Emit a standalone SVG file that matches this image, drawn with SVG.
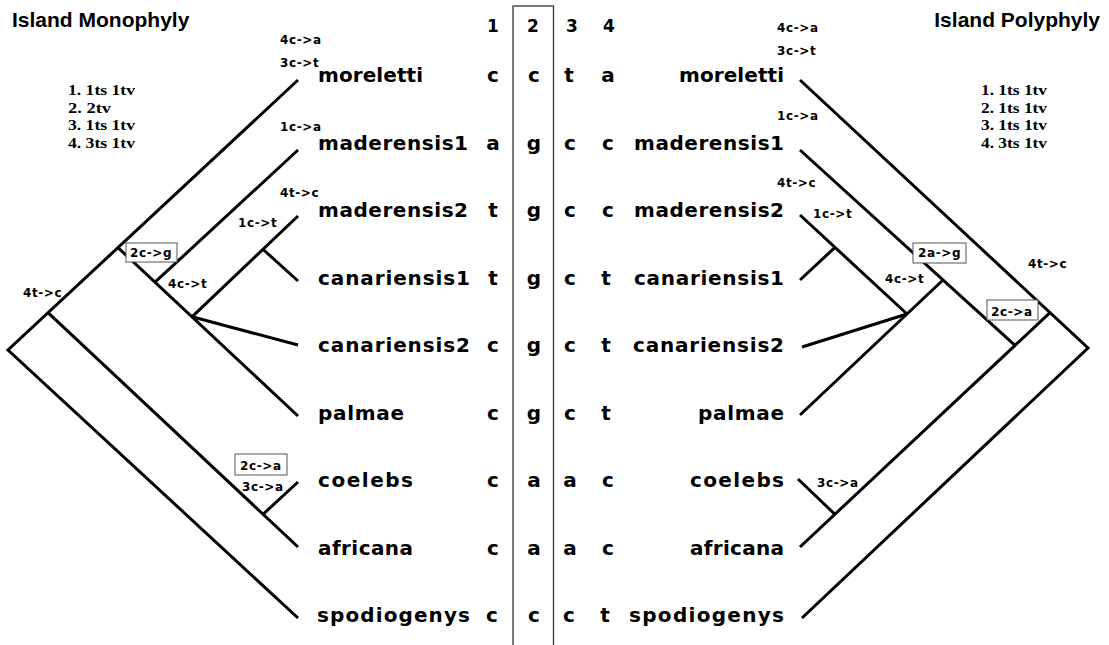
<svg xmlns="http://www.w3.org/2000/svg" width="1109" height="645" viewBox="0 0 1109 645">
<style>
.title{font-family:"Liberation Sans",Arial,sans-serif;font-weight:bold;font-size:21px;fill:#000}
.sp{font-family:"DejaVu Sans",sans-serif;font-weight:bold;font-size:20px;fill:#000}
.col{font-family:"DejaVu Sans",sans-serif;font-weight:bold;font-size:20px;fill:#000;text-anchor:middle}
.hdr{font-family:"DejaVu Sans",sans-serif;font-weight:bold;font-size:17px;fill:#000;text-anchor:middle}
.lab{font-family:"DejaVu Sans",sans-serif;font-weight:bold;font-size:12px;letter-spacing:0.6px;fill:#000}
.leg{font-family:"Liberation Serif","Times New Roman",serif;font-weight:bold;font-size:15px;fill:#000}
.br{stroke:#000;stroke-width:3;fill:none;stroke-linecap:butt}
.box{fill:#fff;stroke:#555;stroke-width:1}
.colbox{fill:none;stroke:#333;stroke-width:1.3}
.r{text-anchor:end}
</style>

<text class="title" x="12" y="27">Island Monophyly</text>
<text class="title r" x="1100" y="27">Island Polyphyly</text>

<g id="legend-left">
<text class="leg" x="68" y="95" textLength="67" lengthAdjust="spacingAndGlyphs">1. 1ts 1tv</text>
<text class="leg" x="68" y="113" textLength="43" lengthAdjust="spacingAndGlyphs">2. 2tv</text>
<text class="leg" x="68" y="130" textLength="67" lengthAdjust="spacingAndGlyphs">3. 1ts 1tv</text>
<text class="leg" x="68" y="148" textLength="67" lengthAdjust="spacingAndGlyphs">4. 3ts 1tv</text>
</g>
<g id="legend-right">
<text class="leg" x="981" y="95" textLength="66" lengthAdjust="spacingAndGlyphs">1. 1ts 1tv</text>
<text class="leg" x="981" y="113" textLength="66" lengthAdjust="spacingAndGlyphs">2. 1ts 1tv</text>
<text class="leg" x="981" y="130" textLength="66" lengthAdjust="spacingAndGlyphs">3. 1ts 1tv</text>
<text class="leg" x="981" y="148" textLength="66" lengthAdjust="spacingAndGlyphs">4. 3ts 1tv</text>
</g>

<g id="columns">
<rect class="colbox" x="513" y="6" width="40.5" height="660"/>
<text class="hdr" x="493" y="32">1</text>
<text class="hdr" x="533" y="32">2</text>
<text class="hdr" x="572" y="32">3</text>
<text class="hdr" x="609" y="32">4</text>
</g>

<g id="connectors">
<!-- left tree -->
<path class="br" d="M298,80 L8,350 L298,618"/>
<path class="br" d="M48,312.7 L298,547"/>
<path class="br" d="M263,514.3 L298,482"/>
<path class="br" d="M118,247.6 L298,416"/>
<path class="br" d="M155,282.2 L298,150"/>
<path class="br" d="M192,316.8 L298,216"/>
<path class="br" d="M192,316.8 L298,345"/>
<path class="br" d="M263,249.3 L298,281"/>
<!-- right tree -->
<path class="br" d="M800,80 L1088,348 L802,618"/>
<path class="br" d="M1050,312.6 L800,547"/>
<path class="br" d="M800,150 L1015,345.4"/>
<path class="br" d="M943,280 L800,415"/>
<path class="br" d="M800,215 L907,314"/>
<path class="br" d="M802,347 L907,314"/>
<path class="br" d="M835,247.4 L800,280"/>
<path class="br" d="M835,514.4 L798,479"/>
</g>

<g id="labels-left">
<text class="lab" x="280" y="44">4c-&gt;a</text>
<text class="lab" x="280" y="67">3c-&gt;t</text>
<text class="lab" x="280" y="131">1c-&gt;a</text>
<text class="lab" x="280" y="197">4t-&gt;c</text>
<text class="lab" x="238" y="227">1c-&gt;t</text>
<rect class="box" x="126" y="243" width="51" height="19"/>
<text class="lab" x="130" y="257">2c-&gt;g</text>
<text class="lab" x="168" y="288">4c-&gt;t</text>
<text class="lab" x="23" y="297">4t-&gt;c</text>
<rect class="box" x="235" y="454" width="52" height="21"/>
<text class="lab" x="240" y="470">2c-&gt;a</text>
<text class="lab" x="242" y="491">3c-&gt;a</text>
</g>

<g id="labels-right">
<text class="lab" x="777" y="32">4c-&gt;a</text>
<text class="lab" x="777" y="55">3c-&gt;t</text>
<text class="lab" x="777" y="120">1c-&gt;a</text>
<text class="lab" x="777" y="187">4t-&gt;c</text>
<text class="lab" x="813" y="218">1c-&gt;t</text>
<rect class="box" x="913" y="243" width="53" height="20"/>
<text class="lab" x="918" y="257">2a-&gt;g</text>
<text class="lab" x="885" y="283">4c-&gt;t</text>
<text class="lab" x="1028" y="268">4t-&gt;c</text>
<rect class="box" x="987" y="300" width="51" height="20"/>
<text class="lab" x="991" y="316">2c-&gt;a</text>
<text class="lab" x="817" y="487">3c-&gt;a</text>
</g>

<g id="taxon-moreletti">
<text class="sp" x="318" y="82" textLength="105">moreletti</text>
<text class="col" x="493" y="82">c</text><text class="col" x="534" y="82">c</text><text class="col" x="569" y="82">t</text><text class="col" x="608" y="82">a</text>
<text class="sp r" x="784" y="82" textLength="105">moreletti</text>
</g>
<g id="taxon-maderensis1">
<text class="sp" x="318" y="149.5" textLength="150">maderensis1</text>
<text class="col" x="493" y="149.5">a</text><text class="col" x="534" y="149.5">g</text><text class="col" x="570" y="149.5">c</text><text class="col" x="608" y="149.5">c</text>
<text class="sp r" x="784" y="149.5" textLength="150">maderensis1</text>
</g>
<g id="taxon-maderensis2">
<text class="sp" x="318" y="217" textLength="150">maderensis2</text>
<text class="col" x="493" y="217">t</text><text class="col" x="534" y="217">g</text><text class="col" x="570" y="217">c</text><text class="col" x="608" y="217">c</text>
<text class="sp r" x="784" y="217" textLength="150">maderensis2</text>
</g>
<g id="taxon-canariensis1">
<text class="sp" x="318" y="284.5" textLength="152">canariensis1</text>
<text class="col" x="493" y="284.5">t</text><text class="col" x="534" y="284.5">g</text><text class="col" x="570" y="284.5">c</text><text class="col" x="606" y="284.5">t</text>
<text class="sp r" x="784" y="284.5" textLength="150">canariensis1</text>
</g>
<g id="taxon-canariensis2">
<text class="sp" x="318" y="352" textLength="152">canariensis2</text>
<text class="col" x="493" y="352">c</text><text class="col" x="534" y="352">g</text><text class="col" x="570" y="352">c</text><text class="col" x="606" y="352">t</text>
<text class="sp r" x="784" y="352" textLength="151">canariensis2</text>
</g>
<g id="taxon-palmae">
<text class="sp" x="318" y="419.5" textLength="86">palmae</text>
<text class="col" x="493" y="419.5">c</text><text class="col" x="534" y="419.5">g</text><text class="col" x="570" y="419.5">c</text><text class="col" x="606" y="419.5">t</text>
<text class="sp r" x="784" y="419.5" textLength="86">palmae</text>
</g>
<g id="taxon-coelebs">
<text class="sp" x="318" y="487" textLength="95">coelebs</text>
<text class="col" x="493" y="487">c</text><text class="col" x="534" y="487">a</text><text class="col" x="570" y="487">a</text><text class="col" x="608" y="487">c</text>
<text class="sp r" x="784" y="487" textLength="94">coelebs</text>
</g>
<g id="taxon-africana">
<text class="sp" x="318" y="554.5" textLength="95">africana</text>
<text class="col" x="493" y="554.5">c</text><text class="col" x="534" y="554.5">a</text><text class="col" x="570" y="554.5">a</text><text class="col" x="608" y="554.5">c</text>
<text class="sp r" x="784" y="554.5" textLength="94">africana</text>
</g>
<g id="taxon-spodiogenys">
<text class="sp" x="317" y="622" textLength="153">spodiogenys</text>
<text class="col" x="492" y="622">c</text><text class="col" x="534" y="622">c</text><text class="col" x="569" y="622">c</text><text class="col" x="605" y="622">t</text>
<text class="sp r" x="784" y="622" textLength="155">spodiogenys</text>
</g>
</svg>
